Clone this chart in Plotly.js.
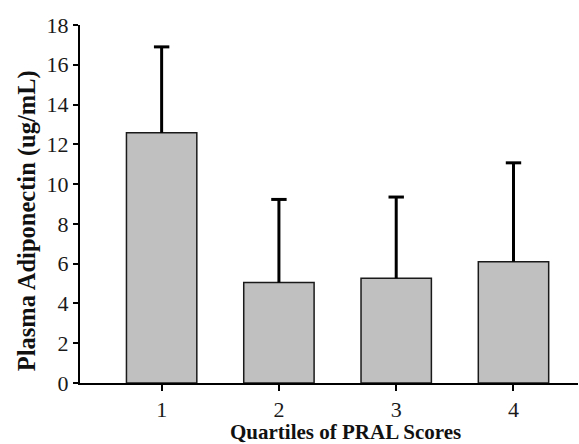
<!DOCTYPE html>
<html>
<head>
<meta charset="utf-8">
<script src="https://cdn.plot.ly/plotly-3.0.1.min.js"></script>
<style>html,body{margin:0;padding:0;background:#fff;}#chart{width:579px;height:444px;}</style>
</head>
<body>
<div id="chart"></div>
<script>
var categories = [1, 2, 3, 4];
var tickLabels = ["1", "2", "3", "4"];
var means = [12.58, 5.05, 5.27, 6.10];
var sdUpper = [4.32, 4.18, 4.08, 4.97];
var xTitle = "Quartiles of PRAL Scores";
var yTitle = "Plasma Adiponectin (ug/mL)";

var FONT = "Liberation Serif";

var bars = {
  type: "bar",
  x: categories,
  y: means,
  width: 0.6,
  marker: {color: "#c0c0c0", line: {color: "#1a1a1a", width: 1.5}},
  hoverinfo: "none"
};

// upward-only error whiskers built from the data arrays
var ex = [], ey = [];
categories.forEach(function (c, i) {
  ex.push(c, c, null);
  ey.push(means[i], means[i] + sdUpper[i], null);
});
var whiskers = {
  type: "scatter", mode: "lines",
  x: ex, y: ey,
  line: {color: "#000", width: 3},
  hoverinfo: "none"
};
var caps = {
  type: "scatter", mode: "markers",
  x: categories,
  y: means.map(function (m, i) { return m + sdUpper[i]; }),
  marker: {symbol: "line-ew", size: 11, line: {color: "#000", width: 3}},
  hoverinfo: "none"
};

var layout = {
  width: 579, height: 444,
  margin: {l: 80, r: 1, t: 25, b: 61},
  paper_bgcolor: "#fff", plot_bgcolor: "#fff",
  showlegend: false,
  font: {family: FONT, color: "#1a1a1a", size: 22},
  xaxis: {
    range: [0.304, 4.55],
    tickmode: "array", tickvals: categories, ticktext: tickLabels,
    ticks: "outside", ticklen: 6, tickwidth: 2, tickcolor: "#000",
    showline: true, linecolor: "#000", linewidth: 2,
    showgrid: false, zeroline: false,
    tickfont: {family: FONT, size: 22, color: "#1a1a1a"}
  },
  yaxis: {
    range: [0, 18], dtick: 2, tick0: 0,
    ticks: "outside", ticklen: 5, tickwidth: 2, tickcolor: "#000",
    showline: true, linecolor: "#000", linewidth: 2,
    showgrid: false, zeroline: false,
    tickfont: {family: FONT, size: 22, color: "#1a1a1a"}
  },
  annotations: [
    {text: "<b>" + xTitle + "</b>", xref: "paper", yref: "paper", x: 0.534, y: -0.136,
     xanchor: "center", yanchor: "middle", showarrow: false,
     font: {family: FONT, size: 21, color: "#111"}},
    {text: "<b>" + yTitle + "</b>", xref: "paper", yref: "paper", x: -0.1064, y: 0.452,
     xanchor: "center", yanchor: "middle", showarrow: false, textangle: -90,
     font: {family: FONT, size: 24.5, color: "#111"}}
  ]
};

Plotly.newPlot("chart", [bars, whiskers, caps], layout, {displayModeBar: false, staticPlot: true});
</script>
</body>
</html>
